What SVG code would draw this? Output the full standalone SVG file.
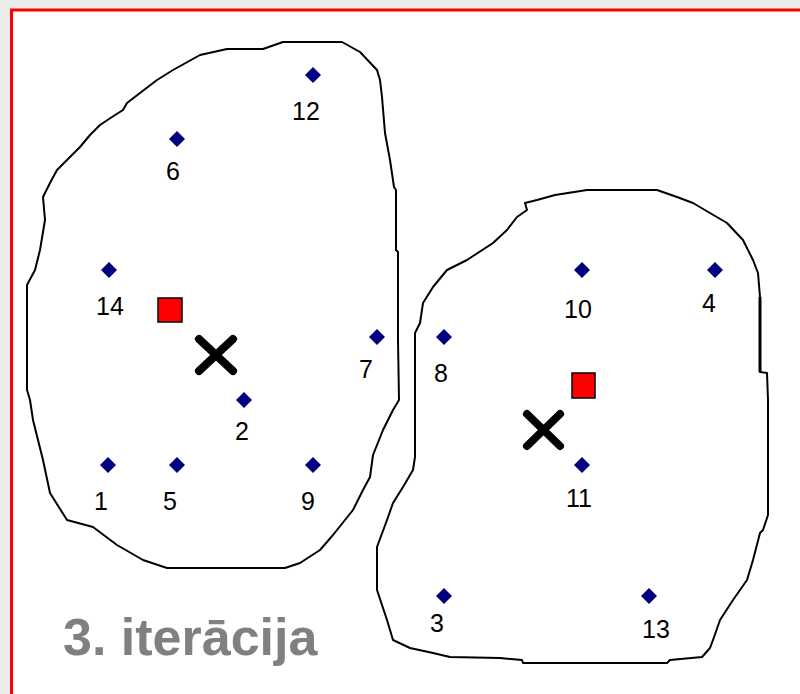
<svg xmlns="http://www.w3.org/2000/svg" width="800" height="694" viewBox="0 0 800 694">
  <style>
    .blob { fill: none; stroke: #000; stroke-width: 2; stroke-linejoin: round; }
    .pt { fill: #000080; }
    .lbl { font-family: "Liberation Sans", Arial, sans-serif; font-size: 25px; fill: #000; text-anchor: middle; }
    .cent { fill: #ff0000; stroke: #000; stroke-width: 1.5; }
    .mean { stroke: #000; stroke-width: 8; stroke-linecap: round; fill: none; }
    .title { font-family: "Liberation Sans", Arial, sans-serif; font-size: 52px; font-weight: bold; fill: #808080; }
  </style>
  <defs>
    <polygon id="dia" points="0,-8 8,0 0,8 -8,0"/>
  </defs>

  <!-- backdrop and frame -->
  <rect x="0" y="0" width="800" height="694" fill="#ebebeb"/>
  <rect x="11.5" y="10" width="800" height="700" fill="#ffffff" stroke="#ff0000" stroke-width="3"/>

  <!-- cluster outlines -->
  <g id="outlines">
    <path class="blob" d="M43,197 L50,183 L57,170 L60,167 L70,157 L80,147 L90,135 L100,125 L112,117 L123,110 L127,103 L140,93 L157,80 L173,70 L200,55 L227,49 L263,49 L283,42 L342,42 L360,52 L377,70 L380,80 L382,97 L385,133 L390,160 L394,187 L396,190 L396,250 L398,252 L398,340 L399,400 L393,410 L383,430 L373,455 L370,477 L363,490 L353,510 L333,535 L320,550 L300,563 L285,568 L167,568 L143,560 L117,545 L93,527 L67,520 L50,493 L43,460 L33,420 L30,400 L27,390 L27,285 L35,270 L40,250 L45,220 Z"/>
    <path class="blob" d="M537,200 L555,195 L587,190 L657,190 L677,197 L693,203 L727,223 L743,240 L753,260 L758,273 L760,297 L760,372 L767,373 L768,400 L768,515 L763,530 L760,533 L753,560 L747,580 L733,600 L720,620 L713,640 L710,648 L702,657 L670,660 L667,663 L523,663 L522,660 L500,658 L450,657 L433,653 L410,648 L393,640 L387,620 L377,590 L377,547 L387,520 L393,503 L403,487 L413,470 L415,457 L415,333 L420,323 L423,303 L433,287 L447,270 L467,260 L493,243 L507,230 L517,217 L527,210 L525,203 Z"/>
    <line x1="760" y1="297" x2="760" y2="372" stroke="#000" stroke-width="3"/>
  </g>

  <!-- data points -->
  <g id="p12"><use href="#dia" class="pt" x="313" y="75"/><text class="lbl" x="306" y="120">12</text></g>
  <g id="p6"><use href="#dia" class="pt" x="177" y="139"/><text class="lbl" x="173" y="180">6</text></g>
  <g id="p14"><use href="#dia" class="pt" x="109" y="270"/><text class="lbl" x="110" y="315">14</text></g>
  <g id="p7"><use href="#dia" class="pt" x="377" y="337"/><text class="lbl" x="366" y="378">7</text></g>
  <g id="p2"><use href="#dia" class="pt" x="244" y="400"/><text class="lbl" x="242" y="440">2</text></g>
  <g id="p1"><use href="#dia" class="pt" x="108" y="465"/><text class="lbl" x="101" y="510">1</text></g>
  <g id="p5"><use href="#dia" class="pt" x="177" y="465"/><text class="lbl" x="170" y="510">5</text></g>
  <g id="p9"><use href="#dia" class="pt" x="313" y="465"/><text class="lbl" x="308" y="510">9</text></g>
  <g id="p8"><use href="#dia" class="pt" x="444" y="337"/><text class="lbl" x="441" y="382">8</text></g>
  <g id="p10"><use href="#dia" class="pt" x="582" y="270"/><text class="lbl" x="578" y="318">10</text></g>
  <g id="p4"><use href="#dia" class="pt" x="715" y="270"/><text class="lbl" x="709" y="312">4</text></g>
  <g id="p11"><use href="#dia" class="pt" x="582" y="465"/><text class="lbl" x="579" y="507">11</text></g>
  <g id="p3"><use href="#dia" class="pt" x="444" y="596"/><text class="lbl" x="437" y="632">3</text></g>
  <g id="p13"><use href="#dia" class="pt" x="649" y="596"/><text class="lbl" x="656" y="638">13</text></g>

  <!-- previous centroids -->
  <g id="c1"><rect class="cent" x="158" y="298" width="24" height="24"/></g>
  <g id="c2"><rect class="cent" x="572" y="373" width="23" height="25"/></g>

  <!-- new centroids -->
  <g id="m1"><path class="mean" d="M199,339 L233,371 M233,339 L199,371"/></g>
  <g id="m2"><path class="mean" d="M527,414 L560,446 M560,414 L527,446"/></g>

  <text class="title" x="63" y="655">3. iterācija</text>
</svg>
